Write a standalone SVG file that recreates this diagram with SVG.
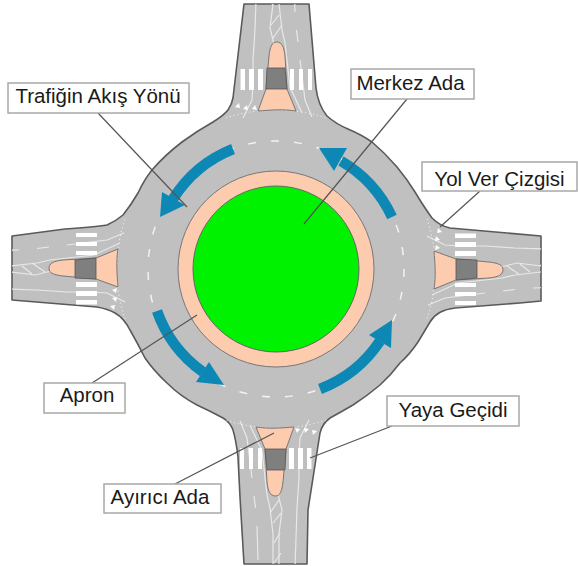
<svg xmlns="http://www.w3.org/2000/svg" width="578" height="566" viewBox="0 0 578 566">
<style>
.road{fill:#c0c0c0;stroke:#5a5a5a;stroke-width:1.6;stroke-linejoin:round}
.wl{fill:none;stroke:#e8e8e8;stroke-width:1.200}
.cross{fill:#fff}
.isl{fill:#fdcbae;stroke:#777;stroke-width:1}
.gray{fill:#7f7f7f;stroke:#555;stroke-width:.8}
.arr{fill:none;stroke:#0d88b5;stroke-width:10.500}
.head{fill:#0d88b5}
.lead{stroke:#555;stroke-width:1.2;fill:none}
.box{fill:#fff;stroke:#a8a8a8;stroke-width:1.5}
.lbl{font-family:"Liberation Sans",Arial,sans-serif;font-size:20.500px;fill:#1a1a1a;text-anchor:middle}
</style>
<defs>
<path id="outline" d="M244 4H309L316 88Q318 105 327 116Q336 124 348 129Q362 135 372 142Q385 153 397 167Q407 179 415 192Q424 207 432 218Q440 226 450 228L541 236V301L520 303L455 308Q437 310 430 322Q424 332 418 342Q410 354 400 363Q391 375 380 385Q367 396 353 405Q341 412 330 418Q322 424 320 433L308 510L307 564H244L240 497L238 457Q236 440 233 430Q230 422 223 418Q210 411 197 405Q180 396 167 383Q154 371 145 358Q138 344 130 330Q124 318 115 313Q108 309 97 307L12 300V236L65 229Q95 227 107 225Q116 221 123 215Q131 205 138 193Q144 180 152 170Q165 155 182 142Q197 131 213 122Q223 116 228 110Q232 104 233 98Z"/>
<clipPath id="roadclip"><use href="#outline"/></clipPath>
<g id="arm-marks">
<path class="wl" d="M257 -30L255 30L253 60V83L252 100L243 118"/>
<path class="wl" d="M273 -30V4L270 28L274 44M279 -30V4L282 30L285 43L290 87L302 113"/>
<path class="wl" d="M271 25L279 15M273 38L282 25M272 5L278 -5M271 -15L278 -25"/>
<path class="wl" d="M294 -22L295 12M296.500 30L298 42M300 60L305 100L312 117"/>
<path class="cross" d="M240.500 69H245V90H240.500ZM249 69H254V90H249ZM258 69H263V90H258ZM290 69H294V90H290ZM299 69H303V90H299ZM308 69H312V90H308Z"/>
<path class="cross" d="M235 107L239 103L240 108ZM243 109L247 105L248 110ZM252 109L255 105L257 110ZM258 111L262 106L264 111Z"/>
<path class="wl" stroke-dasharray="1.200 2.800" d="M226 118A156 156 0 0 1 326 118"/>
</g>
<g id="arm-island">
<path class="isl" d="M276.500 42C282 42 284 47 285 56L287 89L296 111C284 109 270 110 258 111L266 89L269 56C270 47 272 42 276.500 42Z"/>
<path class="gray" d="M267 68H285L287 89H266Z"/>
</g>
</defs>
<rect width="578" height="566" fill="#fff"/>
<g id="road"><use href="#outline" class="road"/></g>
<g id="markings" clip-path="url(#roadclip)">
<circle cx="276" cy="269" r="128" fill="none" stroke="#f2f2f2" stroke-width="1.500" stroke-dasharray="8 15"/>
<use href="#arm-marks"/>
<use href="#arm-marks" transform="rotate(90 276 269)"/>
<use href="#arm-marks" transform="rotate(180 276 269)"/>
<use href="#arm-marks" transform="rotate(270 276 269)"/>
</g>
<g id="separator-north"><use href="#arm-island"/></g>
<g id="separator-east"><use href="#arm-island" transform="rotate(90 276 269)"/></g>
<g id="separator-south"><use href="#arm-island" transform="rotate(180 276 269)"/></g>
<g id="separator-west"><use href="#arm-island" transform="rotate(270 276 269)"/></g>
<g id="central-island"><circle cx="276" cy="269" r="98" fill="#fdcbae" stroke="#777" stroke-width="1"/><circle cx="276" cy="269" r="83" fill="#00f200" stroke="#666" stroke-width="1"/></g>
<g id="flow-arrows">
<path class="arr" d="M233 149A126 126 0 0 0 173 199"/><path class="head" d="M162 192L185 205L160 217Z"/>
<path class="arr" d="M392 217A126 126 0 0 0 341 161"/><path class="head" d="M347 148L334 171L319 148Z"/>
<path class="arr" d="M157 311A126 126 0 0 0 203 372"/><path class="head" d="M209 362L196 382L224 385Z"/>
<path class="arr" d="M320 389A126 126 0 0 0 380 341"/><path class="head" d="M369 335L391 348L392 320Z"/>
</g>
<g id="connectors">
<path class="lead" d="M98 113L187 207"/><path class="lead" d="M407 99L304 224"/><path class="lead" d="M480 191L440 227"/><path class="lead" d="M92 383L197 315"/><path class="lead" d="M392 426L310 458"/><path class="lead" d="M175 484L274 433"/>
</g>
<g id="label-trafik"><rect class="box" x="8" y="83" width="181" height="30"/><text class="lbl" x="98" y="103">Trafiğin Akış Yönü</text></g>
<g id="label-merkez"><rect class="box" x="351" y="69" width="123" height="30"/><text class="lbl" x="410.500" y="90">Merkez Ada</text></g>
<g id="label-yolver"><rect class="box" x="422" y="162" width="155" height="29"/><text class="lbl" x="499.500" y="186">Yol Ver Çizgisi</text></g>
<g id="label-apron"><rect class="box" x="44" y="383" width="81" height="30"/><text class="lbl" x="87" y="402">Apron</text></g>
<g id="label-yaya"><rect class="box" x="387" y="396" width="132" height="30"/><text class="lbl" x="453" y="417">Yaya Geçidi</text></g>
<g id="label-ayirici"><rect class="box" x="104" y="484" width="117" height="29"/><text class="lbl" x="160" y="504">Ayırıcı Ada</text></g>
</svg>
